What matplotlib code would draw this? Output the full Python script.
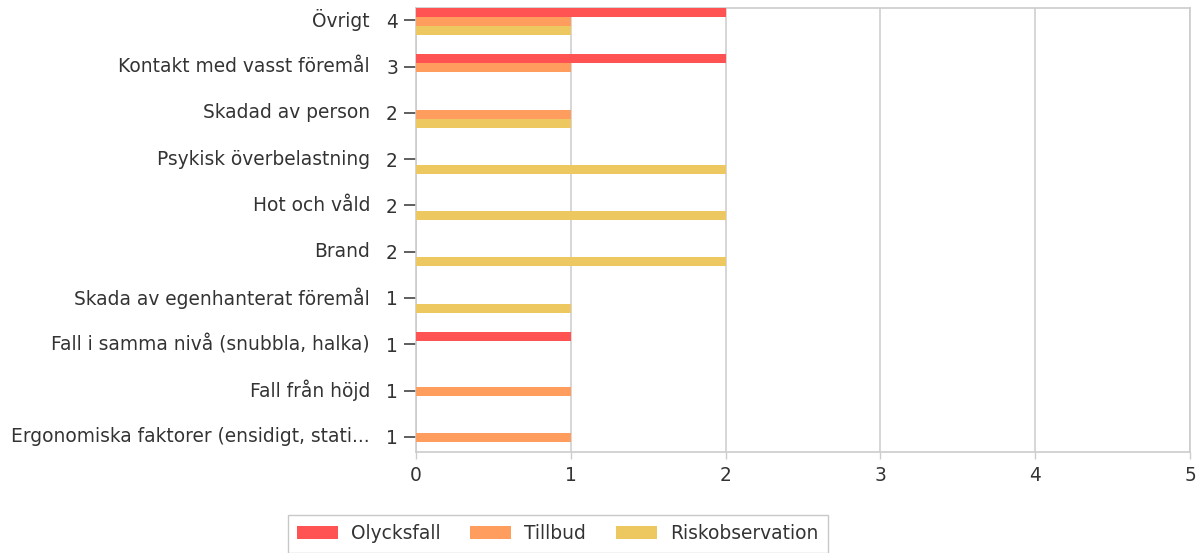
import numpy as np
import matplotlib
matplotlib.use("Agg")
import matplotlib.pyplot as plt
from matplotlib.patches import Patch

plt.rcParams['font.family'] = ['DejaVu Sans']

categories = ["Övrigt", "Kontakt med vasst föremål", "Skadad av person",
              "Psykisk överbelastning", "Hot och våld", "Brand",
              "Skada av egenhanterat föremål", "Fall i samma nivå (snubbla, halka)",
              "Fall från höjd", "Ergonomiska faktorer (ensidigt, stati..."]
olycksfall = [2, 2, 0, 0, 0, 0, 0, 1, 0, 0]
tillbud = [1, 1, 1, 0, 0, 0, 0, 0, 1, 1]
riskobs = [1, 0, 1, 2, 2, 2, 1, 0, 0, 0]
series_names = ["Olycksfall", "Tillbud", "Riskobservation"]
colors = ["#FF5252", "#FF9D5E", "#EDC860"]

totals = np.array(olycksfall) + np.array(tillbud) + np.array(riskobs)
y = np.arange(len(categories))

fs = 13.4

fig = plt.figure(figsize=(11.99, 5.53), dpi=100)
ax = fig.add_axes([0.347, 0.1826, 0.6455, 0.803])

h = 0.195
offsets = [-0.17, 0.025, 0.22]
for vals, off, c in zip([olycksfall, tillbud, riskobs], offsets, colors):
    ax.barh(y + off, vals, height=h, color=c, zorder=3)

ax.set_xlim(0, 5)
ax.set_ylim(9.33, -0.27)
ax.set_xticks(range(6))
ax.set_yticks(y)
ax.set_yticklabels([str(t) for t in totals])
ax.grid(axis="x", color="#d0d0d0", linewidth=1.2, zorder=0)
for s in ax.spines.values():
    s.set_color("#cccccc")
    s.set_linewidth(1.2)
ax.tick_params(axis="y", length=9, width=1.2, color="#444444", pad=4,
               labelsize=fs, labelcolor="#333333")
ax.tick_params(axis="x", length=5, width=1, color="#cccccc", pad=5,
               labelsize=fs, labelcolor="#333333")

for yi, name in zip(y, categories):
    ax.text(-0.0594, yi, name, transform=ax.get_yaxis_transform(),
            ha="right", va="center", fontsize=fs, color="#333333")

handles = [Patch(facecolor=c, edgecolor="none") for c in colors]
leg = fig.legend(handles, series_names, loc="upper left",
                 bbox_to_anchor=(0.240, 0.0687), borderaxespad=0, ncol=3,
                 fontsize=fs, frameon=True, fancybox=False, edgecolor="#bbbbbb",
                 handlelength=2.2, handleheight=0.7, handletextpad=0.7,
                 columnspacing=1.6, borderpad=0.5)
for t in leg.get_texts():
    t.set_color("#333333")

fig.savefig("out.png", dpi=100)
